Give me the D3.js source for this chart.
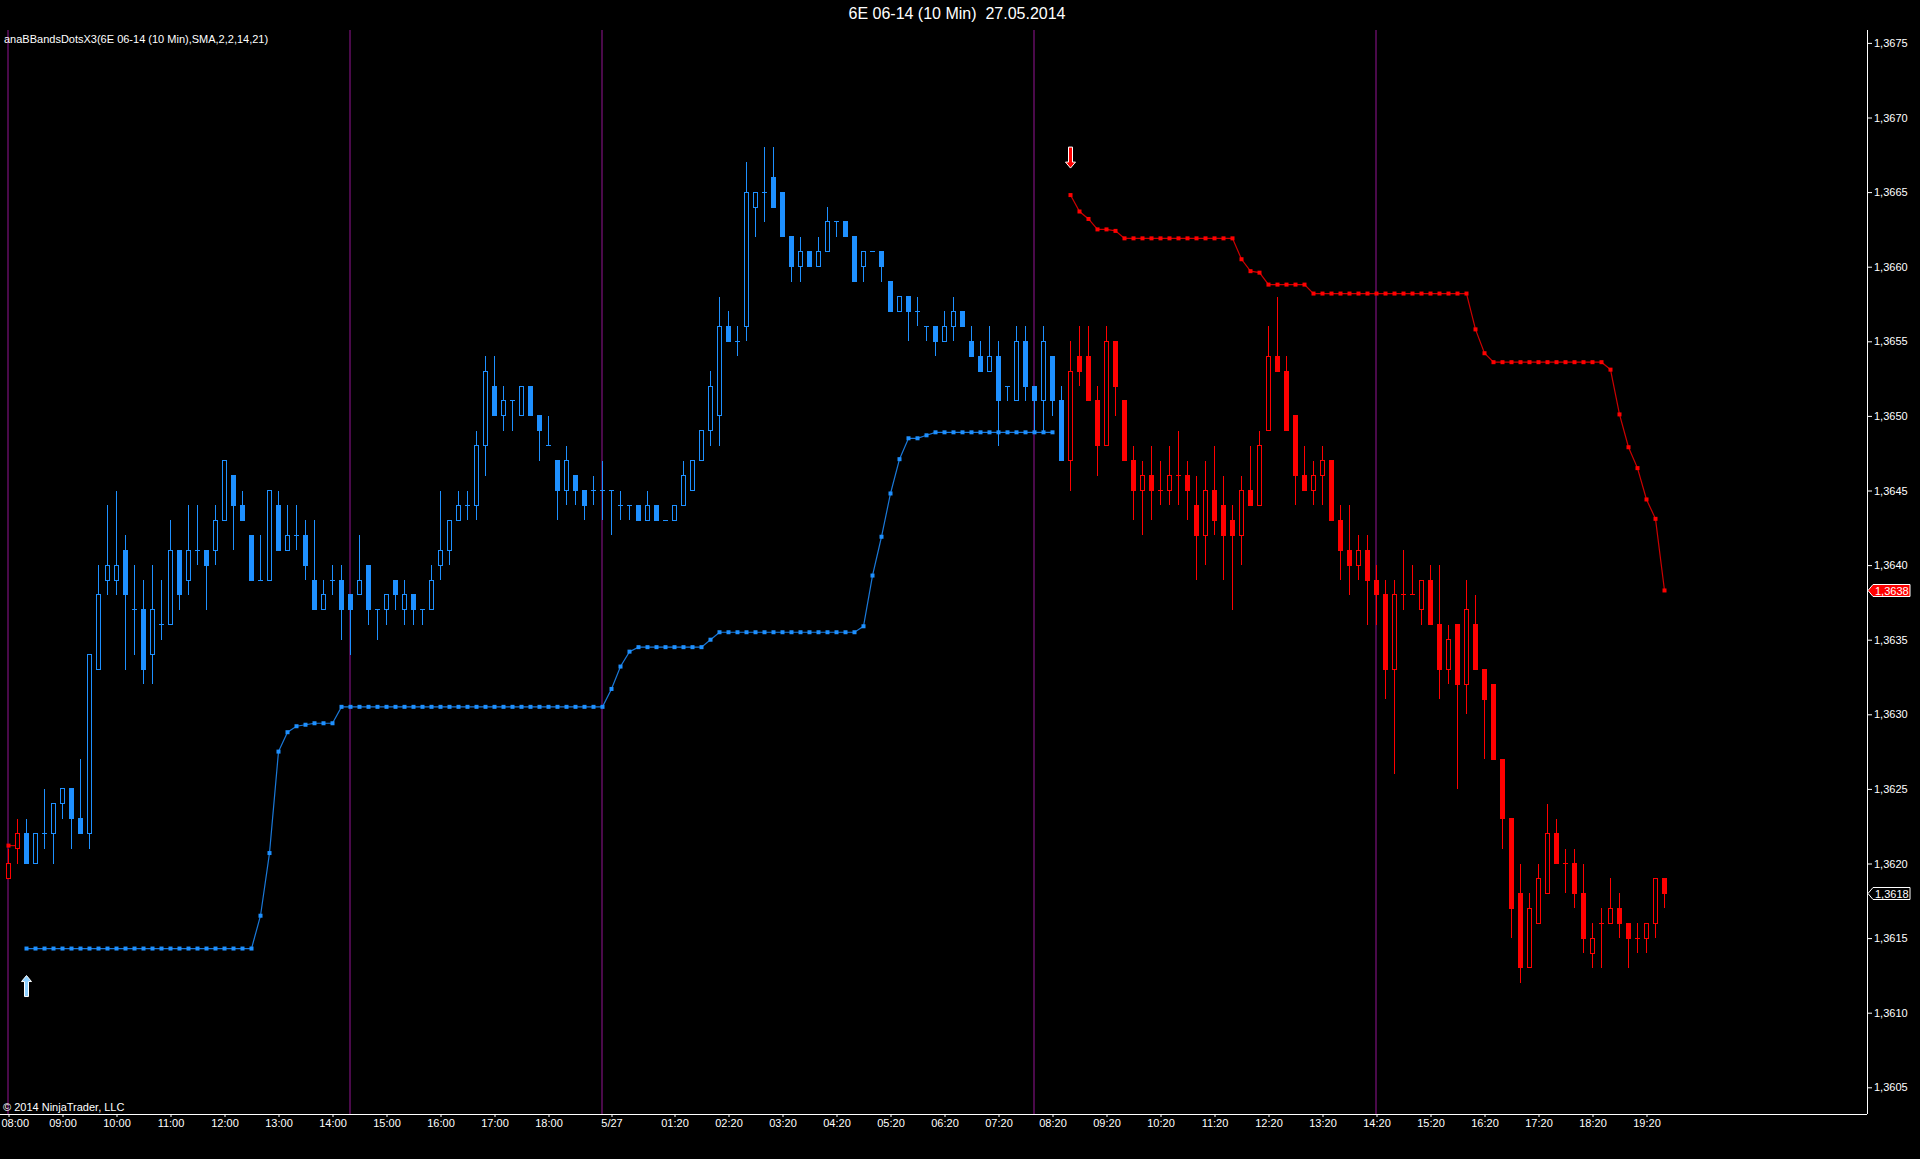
<!DOCTYPE html>
<html lang="en">
    <head>
        <meta charset="utf-8">
        <title>6E 06-14 (10 Min) 27.05.2014</title>
        <script type="text/javascript" src="https://cdn.jsdelivr.net/npm/d3@7"></script>
        <style>
            body { margin: 0; background: #000; }
            svg text { font-family: "Liberation Sans", Arial, sans-serif; fill: #fff; }
        </style>
    </head>
    <body>
        <div id="chart"></div>
        <script type="text/javascript">
            // 10 min bars, 08:00 (5/26) .. 19:40 (5/27)
            var openP = [
                1.3619,1.3621,1.3622,1.3620,1.3622,1.3622,1.3624,1.3625,1.3623,1.3622,
                1.3633,1.3639,1.3639,1.3641,1.3637,1.3637,1.3634,1.3636,1.3636,1.3641,
                1.3639,1.3641,1.3641,1.3641,1.3643,1.3646,1.3644,1.3642,1.3639,1.3639,
                1.3644,1.3641,1.3642,1.3642,1.3639,1.3637,1.3639,1.3639,1.3638,1.3638,
                1.3640,1.3637,1.3637,1.3639,1.3637,1.3638,1.3637,1.3637,1.3640,1.3641,
                1.3643,1.3644,1.3644,1.3648,1.3652,1.3650,1.3651,1.3650,1.3652,1.3650,
                1.3648,1.3647,1.3645,1.3646,1.3645,1.3645,1.3645,1.3645,1.3644,1.3644,
                1.3644,1.3643,1.3644,1.3643,1.3643,1.3644,1.3645,1.3647,1.3649,1.3650,
                1.3656,1.3655,1.3656,1.3664,1.3665,1.3666,1.3665,1.3662,1.3660,1.3661,
                1.3660,1.3661,1.3663,1.3663,1.3662,1.3660,1.3661,1.3661,1.3659,1.3657,
                1.3658,1.3657,1.3656,1.3656,1.3655,1.3656,1.3657,1.3655,1.3654,1.3653,
                1.3654,1.3652,1.3651,1.3655,1.3652,1.3651,1.3654,1.3651,1.3647,1.3654,
                1.3654,1.3651,1.3648,1.3655,1.3651,1.3647,1.3645,1.3646,1.3645,1.3645,
                1.3646,1.3646,1.3644,1.3642,1.3645,1.3644,1.3643,1.3642,1.3645,1.3644,
                1.3649,1.3654,1.3653,1.3650,1.3646,1.3645,1.3646,1.3647,1.3643,1.3641,
                1.3640,1.3641,1.3639,1.3638,1.3633,1.3638,1.3638,1.3637,1.3639,1.3636,
                1.3633,1.3636,1.3632,1.3636,1.3633,1.3632,1.3627,1.3623,1.3618,1.3613,
                1.3616,1.3618,1.3622,1.3620,1.3620,1.3618,1.3614,1.3616,1.3616,1.3617,
                1.3616,1.3615,1.3615,1.3616,1.3619
            ];
            var highP = [
                1.3621,1.3623,1.3623,1.3622,1.3625,1.3624,1.3625,1.3625,1.3627,1.3634,
                1.3640,1.3644,1.3645,1.3642,1.3640,1.3639,1.3640,1.3639,1.3643,1.3641,
                1.3644,1.3644,1.3641,1.3644,1.3647,1.3646,1.3645,1.3642,1.3642,1.3645,
                1.3645,1.3644,1.3644,1.3643,1.3643,1.3639,1.3640,1.3640,1.3638,1.3642,
                1.3640,1.3637,1.3638,1.3639,1.3639,1.3638,1.3637,1.3640,1.3645,1.3643,
                1.3645,1.3645,1.3649,1.3654,1.3654,1.3652,1.3651,1.3652,1.3652,1.3650,
                1.3650,1.3647,1.3648,1.3646,1.3645,1.3646,1.3647,1.3645,1.3645,1.3644,
                1.3644,1.3645,1.3644,1.3643,1.3644,1.3647,1.3647,1.3649,1.3653,1.3658,
                1.3657,1.3656,1.3667,1.3665,1.3668,1.3668,1.3665,1.3662,1.3662,1.3661,
                1.3662,1.3664,1.3663,1.3663,1.3662,1.3661,1.3661,1.3661,1.3659,1.3658,
                1.3658,1.3658,1.3656,1.3656,1.3657,1.3658,1.3657,1.3656,1.3655,1.3656,
                1.3655,1.3652,1.3656,1.3656,1.3652,1.3656,1.3654,1.3652,1.3655,1.3656,
                1.3656,1.3652,1.3656,1.3655,1.3651,1.3648,1.3647,1.3648,1.3647,1.3648,
                1.3649,1.3647,1.3646,1.3647,1.3648,1.3646,1.3644,1.3646,1.3648,1.3649,
                1.3656,1.3658,1.3654,1.3650,1.3648,1.3647,1.3648,1.3647,1.3644,1.3644,
                1.3642,1.3642,1.3640,1.3639,1.3639,1.3641,1.3640,1.3639,1.3640,1.3640,
                1.3636,1.3636,1.3639,1.3638,1.3633,1.3632,1.3627,1.3623,1.3620,1.3618,
                1.3620,1.3624,1.3623,1.3621,1.3621,1.3620,1.3616,1.3617,1.3619,1.3618,
                1.3616,1.3616,1.3616,1.3619,1.3619
            ];
            var lowP = [
                1.3619,1.3620,1.3620,1.3620,1.3621,1.3620,1.3623,1.3621,1.3622,1.3621,
                1.3633,1.3638,1.3638,1.3633,1.3634,1.3632,1.3632,1.3635,1.3636,1.3637,
                1.3638,1.3640,1.3637,1.3640,1.3643,1.3641,1.3643,1.3639,1.3639,1.3639,
                1.3641,1.3641,1.3641,1.3639,1.3637,1.3637,1.3638,1.3635,1.3634,1.3638,
                1.3636,1.3635,1.3636,1.3637,1.3636,1.3636,1.3636,1.3637,1.3639,1.3640,
                1.3643,1.3643,1.3643,1.3646,1.3650,1.3649,1.3649,1.3650,1.3650,1.3647,
                1.3648,1.3643,1.3644,1.3644,1.3643,1.3644,1.3643,1.3642,1.3643,1.3643,
                1.3643,1.3643,1.3643,1.3643,1.3643,1.3644,1.3645,1.3647,1.3648,1.3648,
                1.3655,1.3654,1.3655,1.3662,1.3663,1.3664,1.3662,1.3659,1.3659,1.3660,
                1.3660,1.3661,1.3662,1.3662,1.3659,1.3659,1.3661,1.3659,1.3657,1.3657,
                1.3655,1.3656,1.3655,1.3654,1.3655,1.3655,1.3656,1.3654,1.3653,1.3653,
                1.3648,1.3651,1.3651,1.3651,1.3649,1.3649,1.3650,1.3647,1.3645,1.3652,
                1.3651,1.3646,1.3648,1.3650,1.3647,1.3643,1.3642,1.3643,1.3644,1.3644,
                1.3644,1.3643,1.3639,1.3640,1.3642,1.3639,1.3637,1.3640,1.3644,1.3644,
                1.3649,1.3653,1.3649,1.3644,1.3645,1.3644,1.3644,1.3643,1.3639,1.3638,
                1.3639,1.3636,1.3636,1.3631,1.3626,1.3637,1.3638,1.3636,1.3636,1.3631,
                1.3632,1.3625,1.3630,1.3633,1.3627,1.3627,1.3621,1.3615,1.3612,1.3613,
                1.3616,1.3618,1.3620,1.3618,1.3617,1.3614,1.3613,1.3613,1.3616,1.3615,
                1.3613,1.3614,1.3614,1.3615,1.3617
            ];
            var closeP = [
                1.3620,1.3622,1.3620,1.3622,1.3622,1.3624,1.3625,1.3623,1.3622,1.3634,
                1.3638,1.3640,1.3640,1.3638,1.3637,1.3633,1.3637,1.3636,1.3641,1.3638,
                1.3641,1.3641,1.3640,1.3643,1.3647,1.3644,1.3643,1.3639,1.3639,1.3645,
                1.3641,1.3642,1.3642,1.3640,1.3637,1.3638,1.3639,1.3637,1.3637,1.3639,
                1.3637,1.3637,1.3638,1.3638,1.3638,1.3637,1.3637,1.3639,1.3641,1.3643,
                1.3644,1.3644,1.3648,1.3653,1.3650,1.3651,1.3651,1.3652,1.3650,1.3649,
                1.3648,1.3645,1.3647,1.3645,1.3644,1.3645,1.3645,1.3645,1.3644,1.3644,
                1.3643,1.3644,1.3643,1.3643,1.3644,1.3646,1.3647,1.3649,1.3652,1.3656,
                1.3655,1.3655,1.3665,1.3665,1.3665,1.3664,1.3662,1.3660,1.3661,1.3660,
                1.3661,1.3663,1.3663,1.3662,1.3659,1.3661,1.3661,1.3660,1.3657,1.3658,
                1.3657,1.3657,1.3656,1.3655,1.3656,1.3657,1.3656,1.3654,1.3653,1.3654,
                1.3651,1.3652,1.3655,1.3652,1.3651,1.3655,1.3651,1.3647,1.3653,1.3653,
                1.3651,1.3648,1.3655,1.3652,1.3647,1.3645,1.3646,1.3645,1.3645,1.3646,
                1.3646,1.3645,1.3642,1.3645,1.3643,1.3642,1.3642,1.3645,1.3644,1.3648,
                1.3654,1.3653,1.3649,1.3646,1.3645,1.3646,1.3647,1.3643,1.3641,1.3640,
                1.3641,1.3639,1.3638,1.3633,1.3638,1.3638,1.3638,1.3639,1.3636,1.3633,
                1.3635,1.3632,1.3637,1.3633,1.3631,1.3627,1.3623,1.3617,1.3613,1.3617,
                1.3619,1.3622,1.3620,1.3620,1.3618,1.3615,1.3615,1.3616,1.3617,1.3616,
                1.3615,1.3615,1.3616,1.3619,1.3618
            ];

            // trend switches of the indicator (bar index)
            var upTrendStart = 2;
            var downTrendStart = 118;

            // anaBBandsDotsX3 stop dots
            var prevRedStart = 0;
            var prevRedDots = [1.36212, 1.36212];
            var blueDotStart = 2;
            var blueDots = [
                1.36143,1.36143,1.36143,1.36143,1.36143,1.36143,1.36143,1.36143,1.36143,1.36143,
                1.36143,1.36143,1.36143,1.36143,1.36143,1.36143,1.36143,1.36143,1.36143,1.36143,
                1.36143,1.36143,1.36143,1.36143,1.36143,1.36143,1.36165,1.36207,1.36275,1.36288,
                1.36292,1.36293,1.36294,1.36294,1.36294,1.36305,1.36305,1.36305,1.36305,1.36305,
                1.36305,1.36305,1.36305,1.36305,1.36305,1.36305,1.36305,1.36305,1.36305,1.36305,
                1.36305,1.36305,1.36305,1.36305,1.36305,1.36305,1.36305,1.36305,1.36305,1.36305,
                1.36305,1.36305,1.36305,1.36305,1.36305,1.36317,1.36332,1.36342,1.36345,1.36345,
                1.36345,1.36345,1.36345,1.36345,1.36345,1.36345,1.36350,1.36355,1.36355,1.36355,
                1.36355,1.36355,1.36355,1.36355,1.36355,1.36355,1.36355,1.36355,1.36355,1.36355,
                1.36355,1.36355,1.36355,1.36359,1.36393,1.36419,1.36448,1.36471,1.36485,1.36485,
                1.36487,1.36489,1.36489,1.36489,1.36489,1.36489,1.36489,1.36489,1.36489,1.36489,
                1.36489,1.36489,1.36489,1.36489,1.36489
            ];
            var redDotStart = 118;
            var redDots = [
                1.36648,1.36637,1.36632,1.36625,1.36625,1.36624,1.36619,1.36619,1.36619,1.36619,
                1.36619,1.36619,1.36619,1.36619,1.36619,1.36619,1.36619,1.36619,1.36619,1.36605,
                1.36597,1.36596,1.36588,1.36588,1.36588,1.36588,1.36588,1.36582,1.36582,1.36582,
                1.36582,1.36582,1.36582,1.36582,1.36582,1.36582,1.36582,1.36582,1.36582,1.36582,
                1.36582,1.36582,1.36582,1.36582,1.36582,1.36558,1.36542,1.36536,1.36536,1.36536,
                1.36536,1.36536,1.36536,1.36536,1.36536,1.36536,1.36536,1.36536,1.36536,1.36536,
                1.36531,1.36501,1.36479,1.36465,1.36444,1.36431,1.36383
            ];

            // entry arrows
            var signalBars = [2, 118];
            var signalDirs = ["up", "down"];

            // vertical session lines (bar index)
            var sessionBars = [0, 38, 66, 114, 152];

            // axis ticks
            var tickBars = [0, 6, 12, 18, 24, 30, 36, 42, 48, 54, 60, 67, 74, 80, 86, 92, 98, 104,
                            110, 116, 122, 128, 134, 140, 146, 152, 158, 164, 170, 176, 182];
            var tickLabels = ["08:00", "09:00", "10:00", "11:00", "12:00", "13:00", "14:00", "15:00",
                              "16:00", "17:00", "18:00", "5/27", "01:20", "02:20", "03:20", "04:20",
                              "05:20", "06:20", "07:20", "08:20", "09:20", "10:20", "11:20", "12:20",
                              "13:20", "14:20", "15:20", "16:20", "17:20", "18:20", "19:20"];
            var priceTicks = [1.3605, 1.3610, 1.3615, 1.3620, 1.3625, 1.3630, 1.3635, 1.3640,
                              1.3645, 1.3650, 1.3655, 1.3660, 1.3665, 1.3670, 1.3675];

            // 定义svg
            var w = 1920;
            var h = 1159;
            var panelTop = 30;
            var panelBottom = 1114;
            var axisX = 1867;
            var blue = "#1e90ff";
            var red = "#ff0000";

            var svg = d3.select("#chart")
                        .append("svg")
                        .attr("width", w)
                        .attr("height", h)
                        .style("display", "block")
                        .style("background", "#000");

            var xScale = d3.scaleLinear()
                           .domain([0, closeP.length - 1])
                           .range([8.5, 8.5 + 9 * (closeP.length - 1)]);
            var yScale = d3.scaleLinear()
                           .domain([1.3605, 1.3675])
                           .range([1087.3, 42.9]);
            var fmt = function(v) { return v.toFixed(4).replace(".", ","); };

            function barColor(i) {
                return (i >= upTrendStart && i < downTrendStart) ? blue : red;
            }

            // session lines
            svg.append("g")
               .attr("shape-rendering", "crispEdges")
               .selectAll("line")
               .data(sessionBars)
               .enter()
               .append("line")
               .attr("x1", function(d) { return xScale(d) - 0.5; })
               .attr("x2", function(d) { return xScale(d) - 0.5; })
               .attr("y1", panelTop)
               .attr("y2", panelBottom)
               .attr("stroke", "#4a0a4a")
               .attr("stroke-width", 2);

            // dots + connecting lines
            function drawDots(start, values, color, lineColor) {
                var pts = values.map(function(v, k) { return {i: start + k, v: v}; });
                var g = svg.append("g");
                g.append("path")
                 .datum(pts)
                 .attr("fill", "none")
                 .attr("stroke", lineColor)
                 .attr("stroke-width", 1.2)
                 .attr("d", d3.line()
                              .x(function(d) { return xScale(d.i); })
                              .y(function(d) { return yScale(d.v); }));
                g.selectAll("rect")
                 .data(pts)
                 .enter()
                 .append("rect")
                 .attr("x", function(d) { return xScale(d.i) - 2; })
                 .attr("y", function(d) { return yScale(d.v) - 2; })
                 .attr("width", 4)
                 .attr("height", 4)
                 .attr("fill", color);
            }
            drawDots(prevRedStart, prevRedDots, red, "#cc0000");
            drawDots(blueDotStart, blueDots, blue, "#1a78d8");
            drawDots(redDotStart, redDots, red, "#cc0000");

            // candles
            var bars = d3.range(closeP.length).map(function(i) {
                return {i: i, o: openP[i], h: highP[i], l: lowP[i], c: closeP[i]};
            });
            var candles = svg.append("g").attr("shape-rendering", "crispEdges");
            candles.selectAll("line.wick")
                   .data(bars)
                   .enter()
                   .append("line")
                   .attr("class", "wick")
                   .attr("x1", function(d) { return xScale(d.i); })
                   .attr("x2", function(d) { return xScale(d.i); })
                   .attr("y1", function(d) { return yScale(d.h); })
                   .attr("y2", function(d) { return yScale(d.l); })
                   .attr("stroke", function(d) { return barColor(d.i); })
                   .attr("stroke-width", 1);
            candles.selectAll("rect.body")
                   .data(bars.filter(function(d) { return d.o !== d.c; }))
                   .enter()
                   .append("rect")
                   .attr("class", "body")
                   .attr("x", function(d) { return xScale(d.i) - 2; })
                   .attr("width", 4)
                   .attr("y", function(d) { return yScale(Math.max(d.o, d.c)); })
                   .attr("height", function(d) { return yScale(Math.min(d.o, d.c)) - yScale(Math.max(d.o, d.c)); })
                   .attr("fill", function(d) { return d.c > d.o ? "#000" : barColor(d.i); })
                   .attr("stroke", function(d) { return barColor(d.i); })
                   .attr("stroke-width", 1);
            candles.selectAll("line.doji")
                   .data(bars.filter(function(d) { return d.o === d.c; }))
                   .enter()
                   .append("line")
                   .attr("class", "doji")
                   .attr("x1", function(d) { return xScale(d.i) - 2.5; })
                   .attr("x2", function(d) { return xScale(d.i) + 2.5; })
                   .attr("y1", function(d) { return yScale(d.o); })
                   .attr("y2", function(d) { return yScale(d.o); })
                   .attr("stroke", function(d) { return barColor(d.i); })
                   .attr("stroke-width", 1);

            // arrows
            function arrowPath(cx, tipY, s) {
                var p = [[cx - 2, tipY - 21 * s], [cx + 2, tipY - 21 * s], [cx + 2, tipY - 6 * s],
                         [cx + 5, tipY - 6 * s], [cx, tipY], [cx - 5, tipY - 6 * s], [cx - 2, tipY - 6 * s]];
                return "M" + p.join("L") + "Z";
            }
            signalBars.forEach(function(b, k) {
                var up = signalDirs[k] === "up";
                var dotV = up ? blueDots[b - blueDotStart] : redDots[b - redDotStart];
                var tipY = up ? yScale(dotV) + 27 : yScale(dotV) - 27;
                svg.append("path")
                   .attr("d", arrowPath(xScale(b), tipY, up ? -1 : 1))
                   .attr("fill", up ? "#8ccfff" : red)
                   .attr("stroke", "#fff")
                   .attr("stroke-width", 1);
            });

            // axes
            var xAxis = d3.axisBottom(xScale)
                          .tickValues(tickBars)
                          .tickFormat(function(d, i) { return tickLabels[i]; })
                          .tickSize(3)
                          .tickPadding(2);
            var gx = svg.append("g")
                        .attr("transform", "translate(0," + panelBottom + ")")
                        .style("color", "#fff")
                        .call(xAxis);
            gx.select(".domain").remove();
            gx.selectAll("text").attr("font-size", 11).attr("font-family", "Liberation Sans, Arial, sans-serif");
            // first label sits on the left edge: keep it inside the picture
            gx.selectAll("text")
              .filter(function(d) { return d === tickBars[0]; })
              .attr("text-anchor", "start")
              .attr("x", 1 - xScale(tickBars[0]));

            var yAxis = d3.axisRight(yScale)
                          .tickValues(priceTicks)
                          .tickFormat(fmt)
                          .tickSize(5)
                          .tickPadding(2);
            var gy = svg.append("g")
                        .attr("transform", "translate(" + axisX + ",0)")
                        .style("color", "#fff")
                        .call(yAxis);
            gy.select(".domain").remove();
            gy.selectAll("text").attr("font-size", 11).attr("font-family", "Liberation Sans, Arial, sans-serif");

            svg.append("line")
               .attr("x1", axisX + 0.5).attr("x2", axisX + 0.5)
               .attr("y1", panelTop).attr("y2", panelBottom)
               .attr("stroke", "#fff").attr("shape-rendering", "crispEdges");
            svg.append("line")
               .attr("x1", 0).attr("x2", axisX)
               .attr("y1", panelBottom + 0.5).attr("y2", panelBottom + 0.5)
               .attr("stroke", "#fff").attr("shape-rendering", "crispEdges");

            // price markers on the axis
            var markerValues = [redDots[redDots.length - 1], closeP[closeP.length - 1]];
            var markerFills = [red, "#000"];
            markerValues.forEach(function(v, k) {
                var y = Math.round(yScale(v)) + 0.5;
                svg.append("path")
                   .attr("d", "M" + (axisX + 1) + "," + y + "L" + (axisX + 6) + "," + (y - 6) +
                              "L1910," + (y - 6) + "L1910," + (y + 6) + "L" + (axisX + 6) + "," + (y + 6) + "Z")
                   .attr("fill", markerFills[k])
                   .attr("stroke", "#fff")
                   .attr("stroke-width", 1);
                svg.append("text")
                   .attr("x", axisX + 8)
                   .attr("y", y + 4)
                   .attr("font-size", 11)
                   .text(fmt(v));
            });

            // texts
            svg.append("text")
               .attr("x", 957)
               .attr("y", 19)
               .attr("text-anchor", "middle")
               .attr("font-size", 16)
               .style("white-space", "pre")
               .text("6E 06-14 (10 Min)  27.05.2014");
            svg.append("text")
               .attr("x", 4)
               .attr("y", 43)
               .attr("font-size", 11)
               .text("anaBBandsDotsX3(6E 06-14 (10 Min),SMA,2,2,14,21)");
            svg.append("text")
               .attr("x", 3)
               .attr("y", 1111)
               .attr("font-size", 11)
               .text("© 2014 NinjaTrader, LLC");
        </script>
    </body>
</html>
